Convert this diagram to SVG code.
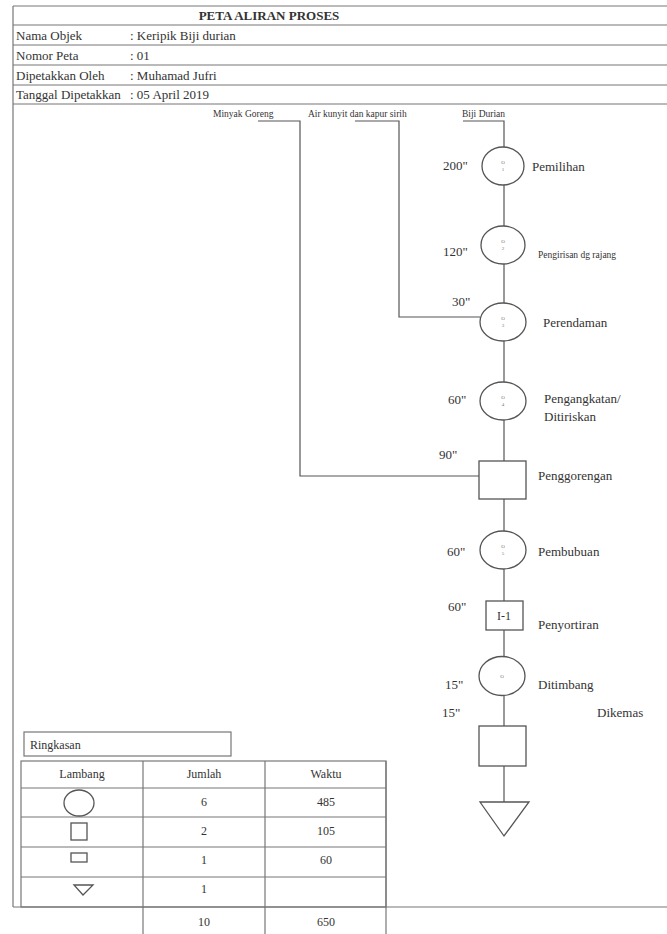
<svg xmlns="http://www.w3.org/2000/svg" width="667" height="934" viewBox="0 0 667 934" font-family="'Liberation Serif', 'DejaVu Serif', serif">
<style>
text{font-family:"Liberation Serif","DejaVu Serif",serif;fill:#333}
.h{font-size:13px}
.t{font-size:12px}
.s{font-size:9.5px}
.lbl{font-size:13px}
.tiny{font-size:5px;fill:#777}
.ln{stroke:#555;stroke-width:1.2;fill:none}
.sh{stroke:#555;stroke-width:1.3;fill:#fff}
.fr{stroke:#777;stroke-width:1.2;fill:none}
</style>
<rect width="667" height="934" fill="#fff"/>
<g id="header">
<line class="fr" x1="13" y1="6" x2="667" y2="6"/>
<line class="fr" x1="13" y1="25" x2="667" y2="25"/>
<line class="fr" x1="13" y1="45" x2="667" y2="45"/>
<line class="fr" x1="13" y1="65" x2="667" y2="65"/>
<line class="fr" x1="13" y1="85" x2="667" y2="85"/>
<line class="fr" x1="13" y1="104" x2="667" y2="104"/>
<line class="fr" x1="13" y1="6" x2="13" y2="907"/>
<line class="fr" x1="13" y1="907" x2="667" y2="907"/>
<text class="h" x="269" y="20" text-anchor="middle" font-weight="bold">PETA ALIRAN PROSES</text>
<text class="h" x="16" y="40">Nama Objek</text><text class="h" x="130" y="40">: Keripik Biji durian</text>
<text class="h" x="16" y="60">Nomor Peta</text><text class="h" x="130" y="60">: 01</text>
<text class="h" x="16" y="80">Dipetakkan Oleh</text><text class="h" x="130" y="80">: Muhamad Jufri</text>
<text class="h" x="16" y="99">Tanggal Dipetakkan</text><text class="h" x="130" y="99">: 05 April 2019</text>
</g>
<g id="connectors">
<polyline class="ln" points="258,121 300,121 300,476 479,476"/>
<polyline class="ln" points="355,121 399,121 399,317 480,317"/>
<polyline class="ln" points="463,121 504,121 504,147"/>
<line class="ln" x1="504" y1="185" x2="504" y2="226"/>
<line class="ln" x1="504" y1="264" x2="504" y2="303"/>
<line class="ln" x1="504" y1="341" x2="504" y2="382"/>
<line class="ln" x1="504" y1="420" x2="504" y2="461"/>
<line class="ln" x1="504" y1="499" x2="504" y2="531"/>
<line class="ln" x1="504" y1="569" x2="504" y2="601"/>
<line class="ln" x1="504" y1="630" x2="504" y2="657"/>
<line class="ln" x1="504" y1="696" x2="504" y2="726"/>
<line class="ln" x1="504" y1="766" x2="504" y2="802"/>
</g>
<g id="inputs">
<text class="s" x="213" y="117">Minyak Goreng</text>
<text class="s" x="308" y="117">Air kunyit dan kapur sirih</text>
<text class="s" x="462" y="117">Biji Durian</text>
</g>
<g id="op1">
<ellipse class="sh" cx="503" cy="166" rx="21" ry="19"/>
<text class="tiny" x="503" y="164" text-anchor="middle">O</text><text class="tiny" x="503" y="171" text-anchor="middle">1</text>
<text class="lbl" x="443" y="170">200"</text>
<text class="lbl" x="532" y="171">Pemilihan</text>
</g>
<g id="op2">
<ellipse class="sh" cx="503" cy="245" rx="22" ry="19"/>
<text class="tiny" x="503" y="243" text-anchor="middle">O</text><text class="tiny" x="503" y="250" text-anchor="middle">2</text>
<text class="lbl" x="443" y="256">120"</text>
<text class="s" x="538" y="258" font-size="8">Pengirisan dg rajang</text>
</g>
<g id="op3">
<ellipse class="sh" cx="503" cy="322" rx="23" ry="19"/>
<text class="tiny" x="503" y="320" text-anchor="middle">O</text><text class="tiny" x="503" y="327" text-anchor="middle">3</text>
<text class="lbl" x="452" y="306">30"</text>
<text class="lbl" x="543" y="327">Perendaman</text>
</g>
<g id="op4">
<ellipse class="sh" cx="503" cy="401" rx="23" ry="19"/>
<text class="tiny" x="503" y="399" text-anchor="middle">O</text><text class="tiny" x="503" y="406" text-anchor="middle">4</text>
<text class="lbl" x="448" y="404">60"</text>
<text class="lbl" x="544" y="403">Pengangkatan/</text>
<text class="lbl" x="544" y="421">Ditiriskan</text>
</g>
<g id="op5">
<rect class="sh" x="479" y="461" width="47" height="38"/>
<text class="lbl" x="439" y="459">90"</text>
<text class="lbl" x="538" y="480">Penggorengan</text>
</g>
<g id="op6">
<ellipse class="sh" cx="503" cy="550" rx="23" ry="19"/>
<text class="tiny" x="503" y="548" text-anchor="middle">O</text><text class="tiny" x="503" y="555" text-anchor="middle">5</text>
<text class="lbl" x="447" y="556">60"</text>
<text class="lbl" x="538" y="556">Pembubuan</text>
</g>
<g id="op7">
<rect class="sh" x="486" y="601" width="37" height="29"/>
<text class="t" x="504" y="620" text-anchor="middle" font-size="10">I-1</text>
<text class="lbl" x="448" y="611">60"</text>
<text class="lbl" x="538" y="629">Penyortiran</text>
</g>
<g id="op8">
<ellipse class="sh" cx="502" cy="676" rx="23" ry="19.5"/>
<text class="tiny" x="502" y="678" text-anchor="middle">O</text>
<text class="lbl" x="445" y="689">15"</text>
<text class="lbl" x="538" y="689">Ditimbang</text>
</g>
<g id="op9">
<rect class="sh" x="479" y="726" width="47" height="40"/>
<text class="lbl" x="442" y="717">15"</text>
<text class="lbl" x="597" y="717">Dikemas</text>
</g>
<g id="store">
<polygon class="sh" points="480,802 529,802 504,836"/>
</g>
<g id="summary">
<rect class="fr" x="24" y="732" width="207" height="24"/>
<text class="t" x="30" y="749">Ringkasan</text>
<rect class="fr" x="21" y="761" width="365" height="146"/>
<line class="fr" x1="21" y1="788" x2="386" y2="788"/>
<line class="fr" x1="21" y1="817" x2="386" y2="817"/>
<line class="fr" x1="21" y1="847" x2="386" y2="847"/>
<line class="fr" x1="21" y1="877" x2="386" y2="877"/>
<line class="fr" x1="143" y1="761" x2="143" y2="934"/>
<line class="fr" x1="265" y1="761" x2="265" y2="934"/>
<line class="fr" x1="386" y1="761" x2="386" y2="934"/>
<text class="t" x="82" y="778" text-anchor="middle">Lambang</text>
<text class="t" x="204" y="778" text-anchor="middle">Jumlah</text>
<text class="t" x="326" y="778" text-anchor="middle">Waktu</text>
<ellipse class="sh" cx="79" cy="803" rx="15" ry="13"/>
<rect class="sh" x="71" y="823" width="16" height="17"/>
<rect class="sh" x="71" y="853" width="16" height="9"/>
<polygon class="sh" points="74,885 93,885 83,895"/>
<text class="t" x="204" y="806" text-anchor="middle">6</text>
<text class="t" x="326" y="806" text-anchor="middle">485</text>
<text class="t" x="204" y="835" text-anchor="middle">2</text>
<text class="t" x="326" y="835" text-anchor="middle">105</text>
<text class="t" x="204" y="864" text-anchor="middle">1</text>
<text class="t" x="326" y="864" text-anchor="middle">60</text>
<text class="t" x="204" y="893" text-anchor="middle">1</text>
<text class="t" x="204" y="926" text-anchor="middle">10</text>
<text class="t" x="326" y="926" text-anchor="middle">650</text>
</g>
</svg>
